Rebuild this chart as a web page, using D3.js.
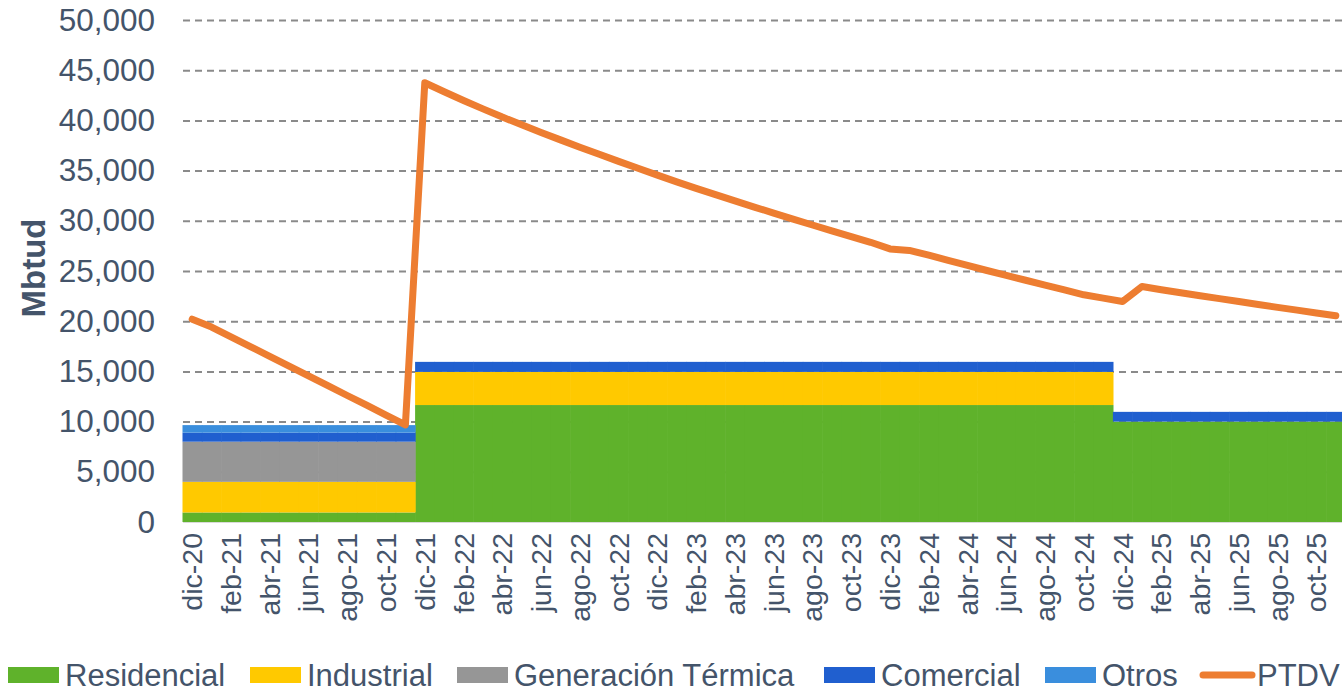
<!DOCTYPE html>
<html>
<head>
<meta charset="utf-8">
<script src="https://cdn.jsdelivr.net/npm/d3@7"></script>
<style>
  html, body { margin: 0; padding: 0; background: #fff; }
  svg { display: block; font-family: "Liberation Sans", Arial, sans-serif; }
</style>
</head>
<body>
<div id="chart"></div>
<script>
const months = [
  "dic-20","ene-21","feb-21","mar-21","abr-21","may-21","jun-21","jul-21","ago-21","sep-21","oct-21","nov-21",
  "dic-21","ene-22","feb-22","mar-22","abr-22","may-22","jun-22","jul-22","ago-22","sep-22","oct-22","nov-22",
  "dic-22","ene-23","feb-23","mar-23","abr-23","may-23","jun-23","jul-23","ago-23","sep-23","oct-23","nov-23",
  "dic-23","ene-24","feb-24","mar-24","abr-24","may-24","jun-24","jul-24","ago-24","sep-24","oct-24","nov-24",
  "dic-24","ene-25","feb-25","mar-25","abr-25","may-25","jun-25","jul-25","ago-25","sep-25","oct-25","nov-25"
];

const residencial = [
  950,950,950,950,950,950,950,950,950,950,950,950,
  11650,11650,11650,11650,11650,11650,11650,11650,11650,11650,11650,11650,
  11650,11650,11650,11650,11650,11650,11650,11650,11650,11650,11650,11650,
  11650,11650,11650,11650,11650,11650,11650,11650,11650,11650,11650,11650,
  10000,10000,10000,10000,10000,10000,10000,10000,10000,10000,10000,10000
];
const industrial = [
  3050,3050,3050,3050,3050,3050,3050,3050,3050,3050,3050,3050,
  3300,3300,3300,3300,3300,3300,3300,3300,3300,3300,3300,3300,
  3300,3300,3300,3300,3300,3300,3300,3300,3300,3300,3300,3300,
  3300,3300,3300,3300,3300,3300,3300,3300,3300,3300,3300,3300,
  0,0,0,0,0,0,0,0,0,0,0,0
];
const generacion = [
  4000,4000,4000,4000,4000,4000,4000,4000,4000,4000,4000,4000,
  0,0,0,0,0,0,0,0,0,0,0,0,
  0,0,0,0,0,0,0,0,0,0,0,0,
  0,0,0,0,0,0,0,0,0,0,0,0,
  0,0,0,0,0,0,0,0,0,0,0,0
];
const comercial = [
  900,900,900,900,900,900,900,900,900,900,900,900,
  1000,1000,1000,1000,1000,1000,1000,1000,1000,1000,1000,1000,
  1000,1000,1000,1000,1000,1000,1000,1000,1000,1000,1000,1000,
  1000,1000,1000,1000,1000,1000,1000,1000,1000,1000,1000,1000,
  970,970,970,970,970,970,970,970,970,970,970,970
];
const otros = [
  750,750,750,750,750,750,750,750,750,750,750,750,
  0,0,0,0,0,0,0,0,0,0,0,0,
  0,0,0,0,0,0,0,0,0,0,0,0,
  0,0,0,0,0,0,0,0,0,0,0,0,
  0,0,0,0,0,0,0,0,0,0,0,0
];
const ptdv = [
  20200,19420,18450,17470,16500,15520,14550,13580,12600,11630,10650,9680,
  43750,42850,41980,41150,40330,39560,38800,38060,37330,36620,35920,35230,
  34550,33880,33230,32600,31980,31370,30770,30170,29580,29000,28430,27860,
  27200,27050,26580,26060,25550,25050,24560,24080,23600,23110,22630,22300,
  21960,23460,23130,22830,22540,22250,21960,21670,21380,21100,20820,20540
];

const seriesNames = ["Residencial", "Industrial", "Generación Térmica", "Comercial", "Otros"];
const seriesColors = ["#5fb22b", "#ffc900", "#969696", "#205fcf", "#3a8edd"];
const lineName = "PTDV";
const lineColor = "#ed7d31";
const yTicks = [0, 5000, 10000, 15000, 20000, 25000, 30000, 35000, 40000, 45000, 50000];

const W = 1342, H = 693;
const textColor = "#44546a";

const svg = d3.select("#chart").append("svg")
  .attr("width", W).attr("height", H);

const x = d3.scaleBand().domain(months).range([182.5, 1345.5]).padding(0);
const y = d3.scaleLinear().domain([0, 50000]).range([522, 20]);

// gridlines
const grid = svg.append("g")
  .attr("transform", "translate(183,0)")
  .call(d3.axisLeft(y).tickValues(yTicks.filter(d => d > 0)).tickSize(-(W - 183)).tickFormat(""));
grid.select(".domain").remove();
grid.selectAll("line")
  .attr("stroke", "#8a8a8a").attr("stroke-width", 2).attr("stroke-dasharray", "7,5");

// stacked columns
const table = months.map((m, i) => ({
  month: m,
  "Residencial": residencial[i],
  "Industrial": industrial[i],
  "Generación Térmica": generacion[i],
  "Comercial": comercial[i],
  "Otros": otros[i]
}));
const stacked = d3.stack().keys(seriesNames)(table);

svg.append("g").selectAll("g").data(stacked).enter().append("g")
  .attr("fill", (d, i) => seriesColors[i])
  .selectAll("rect").data(d => d).enter().append("rect")
  .attr("x", d => x(d.data.month))
  .attr("width", x.bandwidth() + 0.6)
  .attr("y", d => y(d[1]))
  .attr("height", d => Math.max(0, y(d[0]) - y(d[1])));

// x axis line
svg.append("line")
  .attr("x1", 183).attr("x2", W).attr("y1", 522.5).attr("y2", 522.5)
  .attr("stroke", "#d9d9d9").attr("stroke-width", 1);

// PTDV line
const line = d3.line()
  .x((d, i) => x(months[i]) + x.bandwidth() / 2)
  .y(d => y(d));
svg.append("path")
  .datum(ptdv)
  .attr("d", line)
  .attr("fill", "none")
  .attr("stroke", lineColor)
  .attr("stroke-width", 7)
  .attr("stroke-linejoin", "round")
  .attr("stroke-linecap", "round");

// y axis labels
const yAxis = svg.append("g")
  .attr("transform", "translate(183,0)")
  .call(d3.axisLeft(y).tickValues(yTicks).tickSize(0).tickPadding(28).tickFormat(d3.format(",")));
yAxis.select(".domain").remove();
yAxis.selectAll("text")
  .attr("fill", textColor)
  .style("font-size", "31.5px")
  .style("font-family", "'Liberation Sans', Arial, sans-serif");

// x axis labels
const xAxis = svg.append("g")
  .attr("transform", "translate(0,522)")
  .call(d3.axisBottom(x).tickValues(months.filter((d, i) => i % 2 === 0)).tickSize(0));
xAxis.select(".domain").remove();
xAxis.selectAll("text")
  .attr("transform", "rotate(-90)")
  .attr("x", -11).attr("y", 0).attr("dy", "0.35em")
  .style("text-anchor", "end")
  .attr("fill", textColor)
  .style("font-size", "28.5px")
  .style("font-family", "'Liberation Sans', Arial, sans-serif");

// y title
svg.append("text")
  .attr("transform", "translate(45,268) rotate(-90)")
  .attr("text-anchor", "middle")
  .attr("fill", textColor)
  .style("font-size", "33px")
  .style("font-weight", "bold")
  .text("Mbtud");

// legend
const legendItems = [
  {name: seriesNames[0], color: seriesColors[0], x: 8},
  {name: seriesNames[1], color: seriesColors[1], x: 250},
  {name: seriesNames[2], color: seriesColors[2], x: 457},
  {name: seriesNames[3], color: seriesColors[3], x: 824},
  {name: seriesNames[4], color: seriesColors[4], x: 1045},
  {name: lineName, color: lineColor, x: 1200, isLine: true}
];
const legend = svg.append("g");
legendItems.forEach(it => {
  const g = legend.append("g").attr("transform", `translate(${it.x},0)`);
  if (it.isLine) {
    g.append("line").attr("x1", 3).attr("x2", 52).attr("y1", 675).attr("y2", 675)
      .attr("stroke", it.color).attr("stroke-width", 7).attr("stroke-linecap", "round");
  } else {
    g.append("rect").attr("x", 0).attr("y", 667).attr("width", 51).attr("height", 16).attr("fill", it.color);
  }
  g.append("text").attr("x", 57).attr("y", 686)
    .attr("fill", textColor).style("font-size", "31px").text(it.name);
});
</script>
</body>
</html>
